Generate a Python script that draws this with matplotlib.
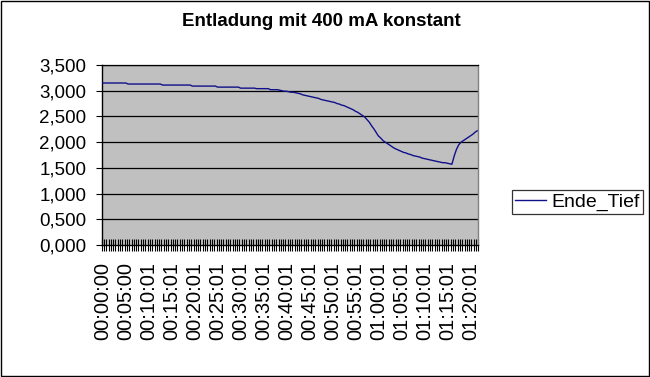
import numpy as np
import matplotlib
matplotlib.use("Agg")
import matplotlib.pyplot as plt
from matplotlib.patches import Rectangle

plt.rcParams['font.family'] = ['Liberation Sans', 'DejaVu Sans']

title = 'Entladung mit 400 mA konstant'
series_name = 'Ende_Tief'

# voltage readings, one every ~30 s (164 samples)
ende_tief = (
    [3.15] * 11 + [3.13] * 15 + [3.11] * 13 + [3.09] * 11 + [3.07] * 10
    + [3.05] * 7 + [3.04] * 6 + [3.02] * 4
    + [3.01, 3.00, 2.99, 2.99, 2.98, 2.97, 2.97, 2.96, 2.95, 2.94,
       2.92, 2.91, 2.90, 2.89, 2.88, 2.87, 2.86, 2.85, 2.83, 2.82,
       2.81, 2.80, 2.79, 2.78, 2.77, 2.75, 2.74, 2.72, 2.71, 2.69,
       2.67, 2.65, 2.63, 2.60, 2.58, 2.55, 2.52, 2.49, 2.44, 2.39,
       2.32, 2.26, 2.19, 2.12, 2.08, 2.03, 2.00, 1.97, 1.94, 1.91,
       1.88, 1.86, 1.84, 1.82, 1.80, 1.79, 1.77, 1.76, 1.74, 1.73,
       1.72, 1.71, 1.69, 1.68, 1.67, 1.66, 1.65, 1.64, 1.63, 1.62,
       1.61, 1.60, 1.60, 1.59, 1.58, 1.57, 1.73, 1.86, 1.95, 2.00,
       2.03, 2.06, 2.09, 2.12, 2.15, 2.19, 2.22]
)

time_labels = ['00:00:00', '00:05:00', '00:10:01', '00:15:01', '00:20:01',
               '00:25:01', '00:30:01', '00:35:01', '00:40:01', '00:45:01',
               '00:50:01', '00:55:01', '01:00:01', '01:05:01', '01:10:01',
               '01:15:01', '01:20:01']
label_every = 10

y_ticks = [0.0, 0.5, 1.0, 1.5, 2.0, 2.5, 3.0, 3.5]
y_labels = ['0,000', '0,500', '1,000', '1,500', '2,000', '2,500', '3,000', '3,500']

n = len(ende_tief)
W, H = 650, 377
fig = plt.figure(figsize=(W / 100, H / 100), dpi=100)
fig.patch.set_facecolor('white')

# plot area in pixels
l, r, t, b = 101.7, 478.3, 65, 245
ax = fig.add_axes([l / W, 1 - b / H, (r - l) / W, (b - t) / H])
ax.set_facecolor('#c0c0c0')

x = np.arange(n)
line, = ax.plot(x, ende_tief, color='#10108a', lw=1.0, label=series_name, zorder=3)

ax.set_xlim(-0.5, n - 0.5)
ax.set_ylim(0, 3.5)

for yv in y_ticks[1:]:
    ax.axhline(yv, color='black', lw=0.9, zorder=2)

ax.set_yticks(y_ticks)
ax.set_yticklabels(y_labels)
ax.tick_params(axis='y', direction='out', length=4, width=0.8, pad=7,
               labelsize=13.5, colors='black')

# category boundaries as ticks, labels every 10 categories
ax.set_xticks(np.arange(-0.5, n, 1), minor=True)
ax.tick_params(axis='x', which='minor', direction='inout', length=8, width=0.8)
ax.set_xticks(np.arange(0, n, label_every)[:len(time_labels)])
ax.set_xticklabels(time_labels, rotation=90)
ax.tick_params(axis='x', which='major', length=0, pad=12, labelsize=14.5)

for s in ['left', 'bottom']:
    ax.spines[s].set_color('black')
    ax.spines[s].set_linewidth(1.0)
ax.spines['top'].set_color('black')
ax.spines['top'].set_linewidth(0.9)
ax.spines['right'].set_color('#808080')
ax.spines['right'].set_linewidth(1.0)

fig.text(321.7 / W, 1 - 22 / H, title, ha='center', va='center',
         fontsize=13.5, fontweight='bold')

leg = fig.legend(handles=[line], loc='center left',
                 bbox_to_anchor=(511.7 / W, 1 - 202 / H),
                 frameon=True, fancybox=False, fontsize=14,
                 handlelength=1.6, handletextpad=0.3, borderpad=0.15,
                 borderaxespad=0)
leg.get_frame().set_edgecolor('black')
leg.get_frame().set_linewidth(0.9)

# outer chart border
fig.patches.append(Rectangle((0.5 / W, 1.5 / H), 648 / W, 375 / H,
                             transform=fig.transFigure, fill=False,
                             edgecolor='black', lw=1.0))

fig.savefig('out.png', dpi=100)
